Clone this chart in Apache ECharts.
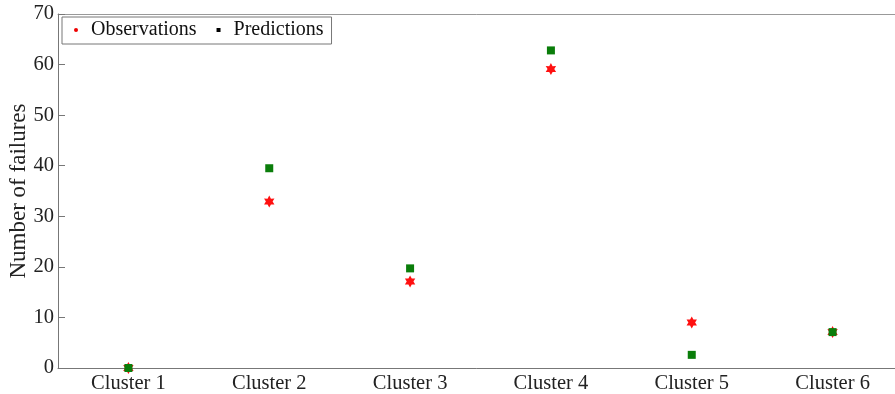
<!DOCTYPE html>
<html>
<head>
<meta charset="utf-8">
<script src="https://cdn.jsdelivr.net/npm/echarts@6/dist/echarts.min.js"></script>
<style>
html,body{margin:0;padding:0;background:#fff;}
#chart{width:895px;height:394px;}
</style>
</head>
<body>
<div id="chart"></div>
<script>
const categories = ['Cluster 1','Cluster 2','Cluster 3','Cluster 4','Cluster 5','Cluster 6'];
const observations = [0, 32.9, 17.1, 59.1, 9.0, 7.1];
const predictions = [0, 39.5, 19.7, 62.8, 2.6, 7.1];
const yTicks = [0, 10, 20, 30, 40, 50, 60, 70];

function hexagramPath() {
  const pts = [];
  for (let k = 0; k < 12; k++) {
    const a = (-90 + k * 30) * Math.PI / 180;
    const r = (k % 2 === 0) ? 10 : 5.6;
    pts.push((10 + r * Math.cos(a)).toFixed(2) + ' ' + (10 + r * Math.sin(a)).toFixed(2));
  }
  return 'path://M' + pts.join(' L') + ' Z';
}

const FONT = '"Liberation Serif", "Times New Roman", serif';
const chart = echarts.init(document.getElementById('chart'));
chart.setOption({
  animation: false,
  backgroundColor: '#fff',
  textStyle: { fontFamily: FONT },
  grid: { left: 58, top: 14, width: 845, bottom: 26, containLabel: false, outerBoundsMode: 'none' },
  legend: {
    left: 62, top: 17,
    padding: [3, 8, 4, 12],
    borderColor: '#777', borderWidth: 1, backgroundColor: '#fff',
    itemWidth: 4, itemHeight: 4, itemGap: 20,
    textStyle: { fontFamily: FONT, fontSize: 20, color: '#111', padding: [0, 0, 0, 8] },
    data: [
      { name: 'Observations', icon: 'circle', itemStyle: { color: '#ee0000' } },
      { name: 'Predictions', icon: 'rect', itemStyle: { color: '#000' } }
    ]
  },
  xAxis: [
    {
      type: 'category', data: categories, position: 'bottom', boundaryGap: true,
      axisLine: { lineStyle: { color: '#777', width: 1 } },
      axisTick: { inside: true, alignWithLabel: true, length: 7, lineStyle: { color: '#777' } },
      axisLabel: { fontFamily: FONT, fontSize: 20.5, color: '#222', margin: 5 },
      splitLine: { show: false }
    },
    {
      type: 'category', data: categories, position: 'top', boundaryGap: true,
      axisLine: { lineStyle: { color: '#999', width: 1 } },
      axisTick: { inside: true, alignWithLabel: true, length: 5, lineStyle: { color: '#999' } },
      axisLabel: { show: false },
      splitLine: { show: false }
    }
  ],
  yAxis: {
    type: 'value', min: 0, max: 70, interval: 10,
    name: 'Number of failures', nameLocation: 'middle', nameGap: 28, nameRotate: 90,
    nameMoveOverlap: false,
    nameTextStyle: { fontFamily: FONT, fontSize: 23, color: '#222' },
    axisLine: { show: true, lineStyle: { color: '#777', width: 1 } },
    axisTick: { show: true, inside: true, length: 7, lineStyle: { color: '#777' } },
    axisLabel: { fontFamily: FONT, fontSize: 20.5, color: '#222', margin: 4,
      formatter: v => yTicks.includes(v) ? String(v) : '' },
    splitLine: { show: false }
  },
  series: [
    {
      name: 'Observations', type: 'scatter', data: observations,
      symbol: hexagramPath(), symbolKeepAspect: true, symbolSize: 12,
      itemStyle: { color: '#ff1010', opacity: 1 }, z: 2
    },
    {
      name: 'Predictions', type: 'scatter', data: predictions,
      symbol: 'rect', symbolSize: 8,
      itemStyle: { color: '#0a7d0a', opacity: 1 }, z: 3
    }
  ]
});
</script>
</body>
</html>
